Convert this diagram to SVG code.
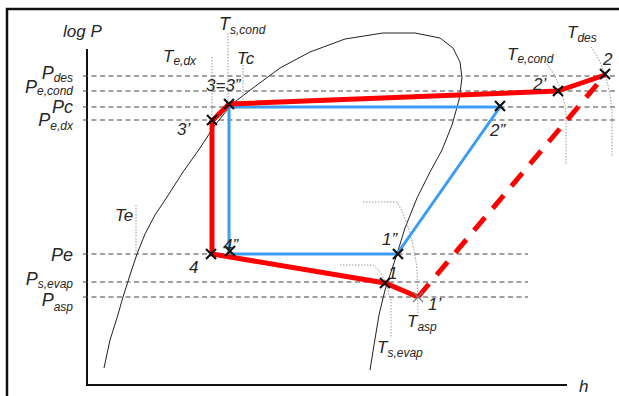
<svg xmlns="http://www.w3.org/2000/svg" width="619" height="396" viewBox="0 0 619 396">
<style>
.t{font-family:"Liberation Sans",Arial,sans-serif;font-style:italic;fill:#262626;}
.big{font-size:18px;}
.mid{font-size:17px;}
.num{font-size:17px;}
.sub{font-size:12px;}
.dash{stroke:#444;stroke-width:1.2;stroke-dasharray:5 3.5;fill:none;}
.iso{stroke:#9a9a9a;stroke-width:1;stroke-dasharray:1.5 1.5;fill:none;}
.x{stroke:#111;stroke-width:2.2;fill:none;}
</style>
<defs>
<path id="xm" d="M-5,-5L5,5M-5,5L5,-5"/>
</defs>
<rect width="619" height="396" fill="#fff"/>
<g id="frame" fill="none" stroke="#111" stroke-width="2.5">
<path d="M7,396V9H619"/>
</g>
<g id="axes" stroke="#111" stroke-width="2" fill="none">
<path d="M87,49V385H567"/>
</g>
<g id="dome">
<polyline fill="none" stroke="#222" stroke-width="1" stroke-linejoin="round" points="104,368 110,340 117,318 123,297 130,275 137,254 145,234 155,215 167,197 183,172 200,148 215,125 232,104 253,88 280,68 310,52 345,39 383,33 415,33 440,38 453,48 460,62 462,78 459,100 452,125 442,150 430,172 417,198 405,228 397,254 390,275 385,290 379,315 374,345 370,370"/>
</g>
<g id="pressure-lines">
<path class="dash" d="M83,76H617M83,91H617M83,107H617M83,120H617M83,254H528M83,282H528M83,297H528"/>
</g>
<g id="isotherms">
<path class="iso" d="M228,33V105"/>
<path class="iso" d="M212,57V120"/>
<path class="iso" d="M243,65V100"/>
<path class="iso" d="M136,205V254"/>
<path class="iso" d="M547,64C556,75 563,92 566,112V165"/>
<path class="iso" d="M591,47C601,60 609,80 612,110V157"/>
<path class="iso" d="M340,265H373C380,270 386,280 389,295L391,300V338"/>
<path class="iso" d="M363,202H397C405,215 414,240 417,270L418,313"/>
</g>
<g id="label-1"><text class="t num" x="388" y="279">1</text></g>
<g id="connectors">
<path d="M229,107H500L397,254H229Z" fill="none" stroke="#3d9df2" stroke-width="3"/>
<path d="M229,104L212,121L212,254L385,283L418,297" fill="none" stroke="#ff0000" stroke-width="5" stroke-linejoin="miter"/>
<path d="M418,297L605,75" fill="none" stroke="#ff0000" stroke-width="5" stroke-dasharray="17 12"/>
<path d="M229,104L558,91L605,75" fill="none" stroke="#ff0000" stroke-width="5" stroke-linejoin="round"/>
</g>
<g id="points">
<use href="#xm" class="x" x="229" y="104"/>
<use href="#xm" class="x" x="212" y="120"/>
<use href="#xm" class="x" x="211" y="254"/>
<use href="#xm" class="x" x="230" y="251"/>
<use href="#xm" class="x" x="398" y="254"/>
<use href="#xm" class="x" x="385" y="283"/>
<use href="#xm" x="418" y="297" fill="none" stroke="#777" stroke-width="1.2"/>
<use href="#xm" class="x" x="500" y="106"/>
<use href="#xm" class="x" x="558" y="91"/>
<use href="#xm" class="x" x="605" y="74"/>
</g>
<g id="labels">
<text class="t num" x="63" y="37">log P</text>
<text class="t big" x="73" y="79" text-anchor="end">P<tspan class="sub" dy="3">des</tspan></text>
<text class="t big" x="73" y="93" text-anchor="end">P<tspan class="sub" dy="2">e,cond</tspan></text>
<text class="t big" x="73" y="113" text-anchor="end">Pc</text>
<text class="t big" x="73" y="126" text-anchor="end">P<tspan class="sub" dy="4">e,dx</tspan></text>
<text class="t big" x="73" y="261" text-anchor="end">Pe</text>
<text class="t big" x="73" y="285" text-anchor="end">P<tspan class="sub" dy="3">s,evap</tspan></text>
<text class="t big" x="73" y="306" text-anchor="end">P<tspan class="sub" dy="5">asp</tspan></text>
<text class="t mid" x="163" y="62">T<tspan class="sub" dy="3">e,dx</tspan></text>
<text class="t big" x="219" y="30">T<tspan class="sub" dy="4">s,cond</tspan></text>
<text class="t mid" x="237" y="64">Tc</text>
<text class="t num" x="206" y="91">3=3”</text>
<text class="t num" x="177" y="135">3’</text>
<text class="t mid" x="115" y="221">Te</text>
<text class="t num" x="189" y="273">4</text>
<text class="t num" x="223" y="251">4”</text>
<text class="t num" x="382" y="245">1”</text>
<text class="t num" x="428" y="310">1’</text>
<text class="t mid" x="407" y="327">T<tspan class="sub" dy="4">asp</tspan></text>
<text class="t mid" x="377" y="353">T<tspan class="sub" dy="4">s,evap</tspan></text>
<text class="t num" x="490" y="136">2”</text>
<text class="t num" x="533" y="90">2’</text>
<text class="t num" x="603" y="65">2</text>
<text class="t mid" x="507" y="60">T<tspan class="sub" dy="3">e,cond</tspan></text>
<text class="t mid" x="567" y="38">T<tspan class="sub" dy="4">des</tspan></text>
<text class="t mid" x="579" y="392">h</text>
</g>
</svg>
